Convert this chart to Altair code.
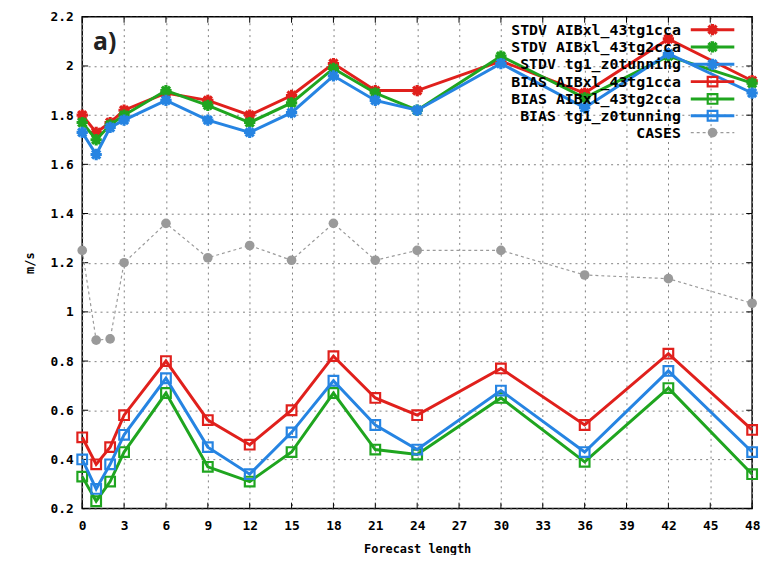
import altair as alt
import pandas as pd

# ---------------- data ----------------
hours = [0, 1, 2, 3, 6, 9, 12, 15, 18, 21, 24, 30, 36, 42, 48]

stdv_tg1 = [1.80, 1.73, 1.77, 1.82, 1.89, 1.86, 1.80, 1.88, 2.01, 1.90, 1.90, 2.02, 1.89, 2.11, 1.94]
stdv_tg2 = [1.77, 1.70, 1.76, 1.80, 1.90, 1.84, 1.77, 1.85, 1.99, 1.89, 1.82, 2.04, 1.87, 2.04, 1.93]
stdv_z0 = [1.73, 1.64, 1.75, 1.78, 1.86, 1.78, 1.73, 1.81, 1.96, 1.86, 1.82, 2.01, 1.83, 2.05, 1.89]

bias_tg1 = [0.49, 0.38, 0.45, 0.58, 0.80, 0.56, 0.46, 0.60, 0.82, 0.65, 0.58, 0.77, 0.54, 0.83, 0.52]
bias_tg2 = [0.33, 0.23, 0.31, 0.43, 0.67, 0.37, 0.31, 0.43, 0.67, 0.44, 0.42, 0.65, 0.39, 0.69, 0.34]
bias_z0 = [0.40, 0.28, 0.38, 0.50, 0.73, 0.45, 0.34, 0.51, 0.72, 0.54, 0.44, 0.68, 0.43, 0.76, 0.43]

cases = [1.25, 0.885, 0.89, 1.20, 1.36, 1.22, 1.27, 1.21, 1.36, 1.21, 1.25, 1.25, 1.15, 1.135, 1.035]

labels = [
    "STDV AIBxl_43tg1cca",
    "STDV AIBxl_43tg2cca",
    "STDV tg1_z0tunning",
    "BIAS AIBxl_43tg1cca",
    "BIAS AIBxl_43tg2cca",
    "BIAS tg1_z0tunning",
    "CASES",
]
values = [stdv_tg1, stdv_tg2, stdv_z0, bias_tg1, bias_tg2, bias_z0, cases]
kinds = ["stdv", "stdv", "stdv", "bias", "bias", "bias", "cases"]

x_ticks = [0, 3, 6, 9, 12, 15, 18, 21, 24, 27, 30, 33, 36, 39, 42, 45, 48]
y_ticks = [0.2, 0.4, 0.6, 0.8, 1.0, 1.2, 1.4, 1.6, 1.8, 2.0, 2.2]

# ---------------- styling ----------------
RED, GREEN, BLUE, GRAY = "#e0201c", "#1fa51f", "#2684e2", "#9a9a9a"
colors = [RED, GREEN, BLUE, RED, GREEN, BLUE, GRAY]
STAR = "M-1,0L1,0M0,-1L0,1M-0.72,-0.72L0.72,0.72M-0.72,0.72L0.72,-0.72"
W, H = 677, 497
MONO = "DejaVu Sans Mono"


def xenc():
    return alt.X(
        "hour:Q",
        scale=alt.Scale(domain=[0, 48], nice=False, zero=False),
        axis=alt.Axis(values=x_ticks, title="Forecast length", format="d",
                      labelPadding=11, titlePadding=11, labelFlush=False),
    )


def yenc():
    return alt.Y(
        "value:Q",
        scale=alt.Scale(domain=[0.2, 2.2], nice=False, zero=False),
        axis=alt.Axis(values=y_ticks, title="m/s", format=".1~f",
                      labelPadding=9, titlePadding=14, labelFlush=False),
    )


layers = []

# inward tick marks on all four sides
xt = pd.DataFrame({"hour": x_ticks})
yt = pd.DataFrame({"value": y_ticks})
layers.append(alt.Chart(xt).mark_rule(color="black", strokeWidth=1).encode(
    x=xenc(), y=alt.value(H), y2=alt.value(H - 6)))
layers.append(alt.Chart(xt).mark_rule(color="black", strokeWidth=1).encode(
    x=xenc(), y=alt.value(0), y2=alt.value(6)))
layers.append(alt.Chart(yt).mark_rule(color="black", strokeWidth=1).encode(
    y=yenc(), x=alt.value(0), x2=alt.value(6)))
layers.append(alt.Chart(yt).mark_rule(color="black", strokeWidth=1).encode(
    y=yenc(), x=alt.value(W), x2=alt.value(W - 6)))

# data series
for lab, vals, col, kind in zip(labels, values, colors, kinds):
    df = pd.DataFrame({"hour": hours, "value": vals})
    if kind == "cases":
        line = alt.Chart(df).mark_line(color=col, strokeWidth=1.2, strokeDash=[3, 3])
        pts = alt.Chart(df).mark_point(shape="circle", filled=True, color=col, size=95, opacity=1)
    elif kind == "stdv":
        line = alt.Chart(df).mark_line(color=col, strokeWidth=3)
        pts = alt.Chart(df).mark_point(shape=STAR, filled=False, color=col, size=130,
                                       strokeWidth=3.2, opacity=1)
    else:
        line = alt.Chart(df).mark_line(color=col, strokeWidth=3)
        pts = alt.Chart(df).mark_point(shape="square", filled=False, color=col, size=95,
                                       strokeWidth=2.2, opacity=1)
    layers.append(line.encode(x=xenc(), y=yenc()))
    layers.append(pts.encode(x=xenc(), y=yenc()))

# legend (gnuplot style: text left, sample right)
leg_y = [13, 30.5, 48, 65.5, 83, 100, 117]
for lab, col, kind, ly in zip(labels, colors, kinds, leg_y):
    d = pd.DataFrame({"label": [lab]})
    layers.append(alt.Chart(d).mark_text(align="right", baseline="middle", font=MONO,
                                         fontWeight="bold", fontSize=15, color="black").encode(
        x=alt.value(605), y=alt.value(ly), text="label:N"))
    if kind == "cases":
        layers.append(alt.Chart(d).mark_rule(color=col, strokeWidth=1.2, strokeDash=[3, 3]).encode(
            x=alt.value(615), x2=alt.value(659), y=alt.value(ly)))
        layers.append(alt.Chart(d).mark_point(shape="circle", filled=True, color=col, size=95,
                                              opacity=1).encode(x=alt.value(637), y=alt.value(ly)))
    elif kind == "stdv":
        layers.append(alt.Chart(d).mark_rule(color=col, strokeWidth=3).encode(
            x=alt.value(615), x2=alt.value(659), y=alt.value(ly)))
        layers.append(alt.Chart(d).mark_point(shape=STAR, filled=False, color=col, size=130,
                                              strokeWidth=3.2, opacity=1).encode(
            x=alt.value(637), y=alt.value(ly)))
    else:
        layers.append(alt.Chart(d).mark_rule(color=col, strokeWidth=3).encode(
            x=alt.value(615), x2=alt.value(659), y=alt.value(ly)))
        layers.append(alt.Chart(d).mark_point(shape="square", filled=False, color=col, size=95,
                                              strokeWidth=2.2, opacity=1).encode(
            x=alt.value(637), y=alt.value(ly)))

# panel label
layers.append(alt.Chart(pd.DataFrame({"t": ["a)"]})).mark_text(
    align="left", baseline="alphabetic", font="Open Sans", fontWeight="bold",
    fontSize=25, color="#222222").encode(x=alt.value(11), y=alt.value(34), text="t:N"))

chart = alt.layer(*layers).properties(
    width=W, height=H,
    autosize=alt.AutoSizeParams(type="none"),
    padding={"left": 75, "top": 6, "right": 12, "bottom": 44},
).configure_view(
    stroke="black", strokeWidth=1.5
).configure_axis(
    grid=True, gridColor="#808080", gridDash=[2, 4], gridWidth=1,
    ticks=False, domain=False,
    labelFont=MONO, labelFontWeight="bold", labelFontSize=13, labelColor="black",
    titleFont=MONO, titleFontWeight="bold", titleFontSize=12, titleColor="black",
)

chart.save("out.html", embed_options={"renderer": "svg", "actions": False})
